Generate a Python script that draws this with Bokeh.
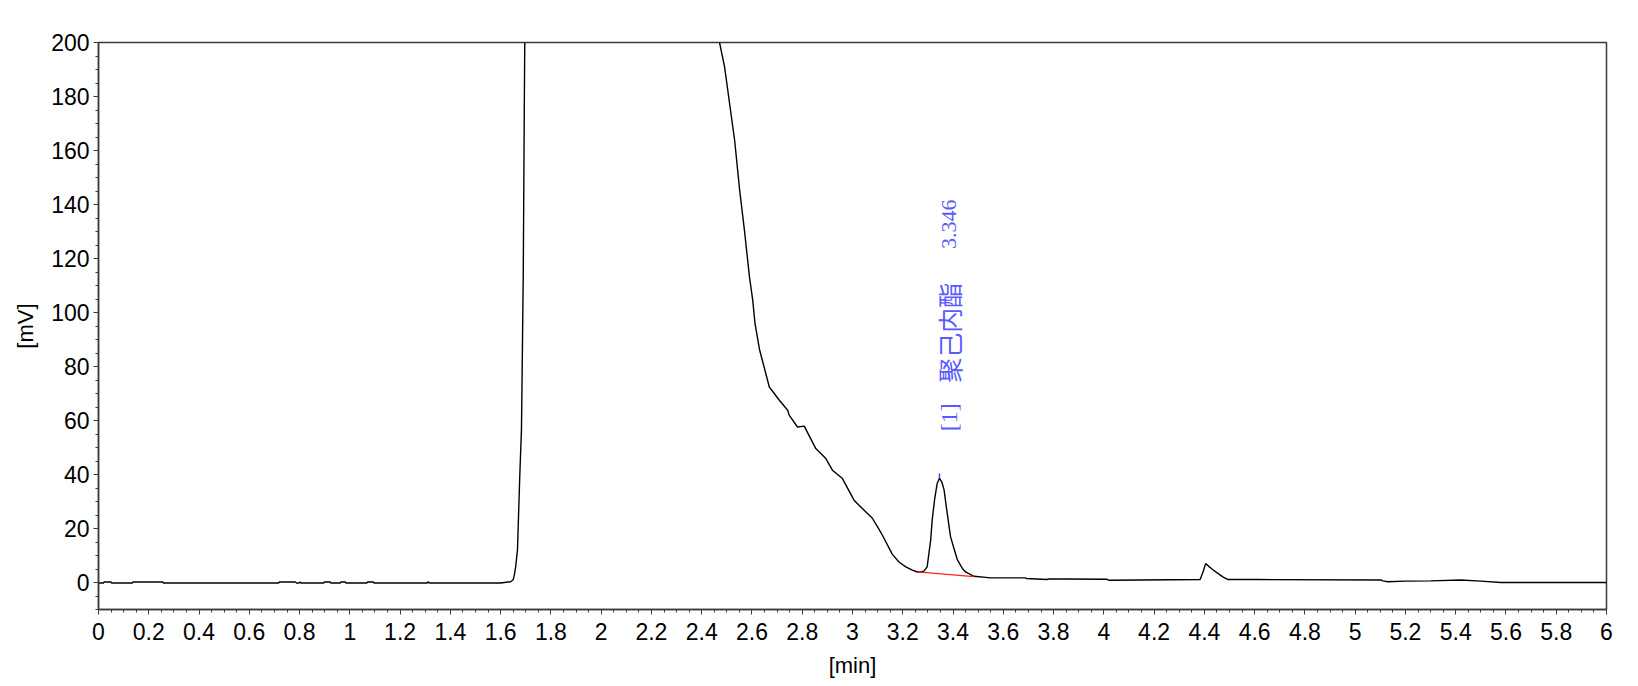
import math
from bokeh.plotting import figure
from bokeh.models import FixedTicker, CustomJSTickFormatter, Range1d
from bokeh.core.properties import value
from bokeh.embed import file_html
from bokeh.resources import INLINE

nan = float("nan")

# ---- data ----
time_min = [
    0.0, 0.02, 0.022, 0.05, 0.052, 0.135, 0.137, 0.256, 0.258, 0.717, 0.719, 0.783, 0.79, 0.803,
    0.805, 0.896, 0.898, 0.922, 0.924, 0.962, 0.964, 0.982, 0.984, 1.068, 1.07, 1.094, 1.096,
    1.308, 1.312, 1.316, 1.60, 1.64, 1.65, 1.655, 1.66, 1.667, 1.676, 1.683, 1.690, 1.694, 1.696,
    nan,
    2.471, 2.491, 2.531, 2.551, 2.570, 2.590, 2.603, 2.612, 2.630, 2.669, 2.709, 2.742, 2.748,
    2.781, 2.808, 2.854, 2.894, 2.920, 2.960, 3.006, 3.026, 3.066, 3.079, 3.105, 3.119, 3.158,
    3.185, 3.212, 3.238, 3.258, 3.272, 3.284, 3.297, 3.311, 3.317, 3.327, 3.337, 3.346, 3.355,
    3.364, 3.377, 3.390, 3.404, 3.417, 3.437, 3.450, 3.483, 3.53, 3.55, 3.569, 3.688, 3.692,
    3.774, 3.78, 3.847, 4.012, 4.019, 4.383, 4.395, 4.405, 4.43, 4.455, 4.475, 4.495, 4.614,
    5.104, 5.11, 5.13, 5.2, 5.3, 5.42, 5.5, 5.58, 6.0,
]
signal_mv = [
    -0.2, -0.2, 0.2, 0.2, -0.2, -0.2, 0.2, 0.2, -0.2, -0.2, 0.2, 0.2, -0.3, 0.1,
    -0.2, -0.2, 0.2, 0.2, -0.2, -0.2, 0.2, 0.2, -0.2, -0.2, 0.2, 0.2, -0.2,
    -0.2, 0.3, -0.2, -0.2, 0.3, 1.0, 3.0, 6.0, 12.0, 39.0, 57.0, 113.8, 173.8, 200.0,
    nan,
    200.0, 191.0, 163.8, 145.3, 130.5, 113.2, 104.6, 96.0, 86.3, 72.4, 67.5, 63.8, 62.0,
    57.6, 57.9, 49.6, 45.9, 41.6, 38.5, 30.5, 28.6, 25.0, 23.8, 19.8, 17.5, 10.5,
    7.6, 5.8, 4.6, 3.9, 3.9, 4.2, 5.8, 15.7, 23.1, 31.0, 36.7, 38.6, 37.3,
    34.5, 25.5, 17.0, 12.5, 8.5, 5.2, 3.9, 2.3, 1.9, 1.7, 1.7, 1.7, 1.5,
    1.1, 1.3, 1.3, 1.2, 0.85, 1.1, 4.0, 7.0, 5.0, 3.3, 2.0, 1.1, 1.1,
    0.9, 0.6, 0.3, 0.5, 0.6, 0.9, 0.5, 0.0, 0.0,
]

# integration baseline of peak [1]
baseline_t = [3.258, 3.483]
baseline_mv = [3.9, 2.2]

# peak annotation
peak_no = 1
peak_name = "聚己内酯"
peak_rt = 3.346
peak_height = 38.6

x_ticks = [round(0.2 * i, 1) for i in range(31)]
x_tick_labels = [("%g" % t) for t in x_ticks]
x_minor = [round(0.05 * i, 2) for i in range(121)]
y_ticks = [0, 20, 40, 60, 80, 100, 120, 140, 160, 180, 200]
y_tick_labels = [str(v) for v in y_ticks]
y_minor = [-10 + 5 * i for i in range(43)]

# ---- figure ----
p = figure(
    output_backend="svg", toolbar_location=None,
    frame_width=1508, frame_height=567,
    min_border_left=98, min_border_right=20, min_border_top=42, min_border_bottom=68,
    x_range=Range1d(0, 6), y_range=Range1d(-10, 200),
    background_fill_color="white", border_fill_color="white",
)
p.xgrid.visible = False
p.ygrid.visible = False
p.outline_line_color = "#3a3a3a"
p.outline_line_width = 1.5

fmt_code = """
let best = 0, d = 1e9;
for (let i = 0; i < tvals.length; i++) {
  const dd = Math.abs(tvals[i] - tick);
  if (dd < d) { d = dd; best = i; }
}
return tlabs[best];
"""

p.xaxis.ticker = FixedTicker(ticks=x_ticks, minor_ticks=x_minor)
p.xaxis.formatter = CustomJSTickFormatter(args=dict(tvals=x_ticks, tlabs=x_tick_labels), code=fmt_code)
p.yaxis.ticker = FixedTicker(ticks=y_ticks, minor_ticks=y_minor)
p.yaxis.formatter = CustomJSTickFormatter(args=dict(tvals=y_ticks, tlabs=y_tick_labels), code=fmt_code)

p.xaxis.axis_label = "[min]"
p.yaxis.axis_label = "[mV]"
for ax in (p.xaxis[0], p.yaxis[0]):
    ax.axis_line_color = "#3a3a3a"
    ax.axis_line_width = 1.5
    ax.major_tick_line_color = "#3a3a3a"
    ax.minor_tick_line_color = "#3a3a3a"
    ax.major_tick_in = 0
    ax.major_tick_out = 5
    ax.minor_tick_in = 0
    ax.minor_tick_out = 3
    ax.major_label_text_font = "Liberation Sans"
    ax.major_label_text_font_size = "23px"
    ax.major_label_text_color = "black"
    ax.axis_label_text_font = "Liberation Sans"
    ax.axis_label_text_font_size = "22px"
    ax.axis_label_text_font_style = "normal"
    ax.axis_label_text_color = "black"
p.xaxis.major_label_standoff = 8
p.xaxis.axis_label_standoff = 10
p.yaxis.major_label_standoff = 4
p.yaxis.axis_label_standoff = 10

# chromatogram trace
p.line(time_min, signal_mv, line_color="black", line_width=1.4)
# integration baseline
p.line(baseline_t, baseline_mv, line_color="#ff2020", line_width=1.2)
# apex marker
p.segment(x0=[peak_rt], y0=[peak_height], x1=[peak_rt], y1=[peak_height + 1.8],
          line_color="#4040ff", line_width=1.5)

# vertical peak label
blue = "#5a5aff"
lab_x = peak_rt + 0.037
p.text(x=[lab_x], y=[61.2], text=["[%d]" % peak_no], angle=math.pi / 2,
       text_align="center", text_baseline="middle", text_color=blue,
       text_font=value("Liberation Serif"), text_font_size="24px")
p.text(x=[lab_x], y=[92.5], text=[peak_name], angle=math.pi / 2,
       text_align="center", text_baseline="middle", text_color=blue,
       text_font=value("Noto Sans CJK SC"), text_font_size="25px")
p.text(x=[lab_x], y=[132.7], text=["%.3f" % peak_rt], angle=math.pi / 2,
       text_align="center", text_baseline="middle", text_color=blue,
       text_font=value("Liberation Serif"), text_font_size="22px")

open("out.html", "w").write(file_html(p, INLINE))
